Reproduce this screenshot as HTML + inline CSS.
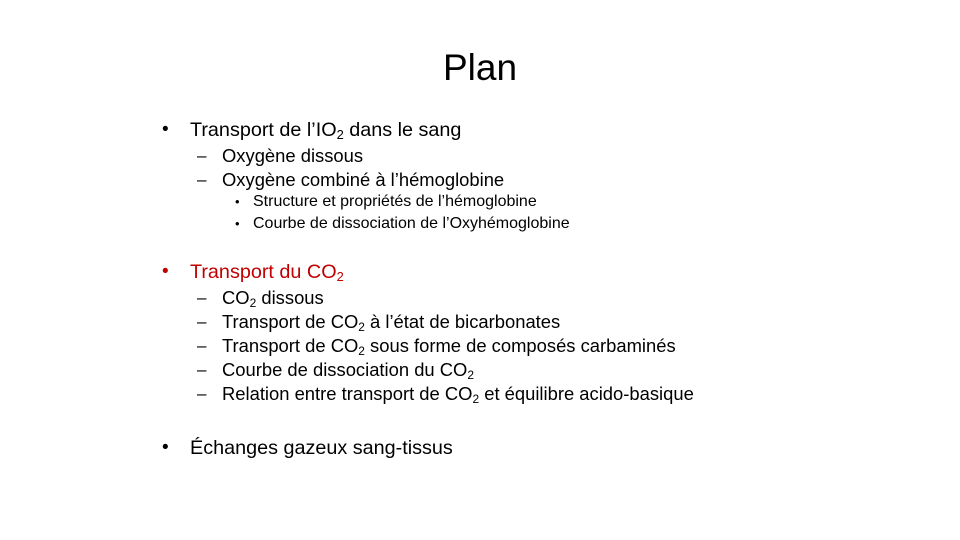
<!DOCTYPE html>
<html><head><meta charset="utf-8"><style>
body{margin:0;width:960px;height:540px;background:#fff;overflow:hidden;font-family:"Liberation Sans",sans-serif;color:#000}
.l{position:absolute;white-space:nowrap;height:30px;line-height:30px}
.a{font-size:19.8px;left:190px}
.b{font-size:18.4px;left:222px}
.c{font-size:16px;left:253px}
.m{position:absolute;white-space:nowrap;height:30px;line-height:30px}
sub{font-size:65%;vertical-align:-0.25em;line-height:0}
.red{color:#C00000}
</style></head><body>
<div style="position:absolute;left:0;width:960px;text-align:center;top:44px;font-size:37px;line-height:48px">Plan</div>

<div class="m" style="left:162px;top:115px;font-size:19px">•</div>
<div class="l a" style="top:115px">Transport de l’IO<sub>2</sub> dans le sang</div>
<div class="m" style="left:197px;top:141px;font-size:17px">–</div>
<div class="l b" style="top:141px">Oxygène dissous</div>
<div class="m" style="left:197px;top:165px;font-size:17px">–</div>
<div class="l b" style="top:165px">Oxygène combiné à l’hémoglobine</div>
<div class="m" style="left:235px;top:187px;font-size:13px">•</div>
<div class="l c" style="top:187px">Structure et propriétés de l’hémoglobine</div>
<div class="m" style="left:235px;top:209px;font-size:13px">•</div>
<div class="l c" style="top:209px">Courbe de dissociation de l’Oxyhémoglobine</div>

<div class="m red" style="left:162px;top:257px;font-size:19px">•</div>
<div class="l a red" style="top:257px">Transport du CO<sub>2</sub></div>
<div class="m" style="left:197px;top:283px;font-size:17px">–</div>
<div class="l b" style="top:283px">CO<sub>2</sub> dissous</div>
<div class="m" style="left:197px;top:307px;font-size:17px">–</div>
<div class="l b" style="top:307px">Transport de CO<sub>2</sub> à l’état de bicarbonates</div>
<div class="m" style="left:197px;top:331px;font-size:17px">–</div>
<div class="l b" style="top:331px">Transport de CO<sub>2</sub> sous forme de composés carbaminés</div>
<div class="m" style="left:197px;top:355px;font-size:17px">–</div>
<div class="l b" style="top:355px">Courbe de dissociation du CO<sub>2</sub></div>
<div class="m" style="left:197px;top:379px;font-size:17px">–</div>
<div class="l b" style="top:379px">Relation entre transport de CO<sub>2</sub> et équilibre acido-basique</div>

<div class="m" style="left:162px;top:433px;font-size:19px">•</div>
<div class="l a" style="top:433px">Échanges gazeux sang-tissus</div>
</body></html>
